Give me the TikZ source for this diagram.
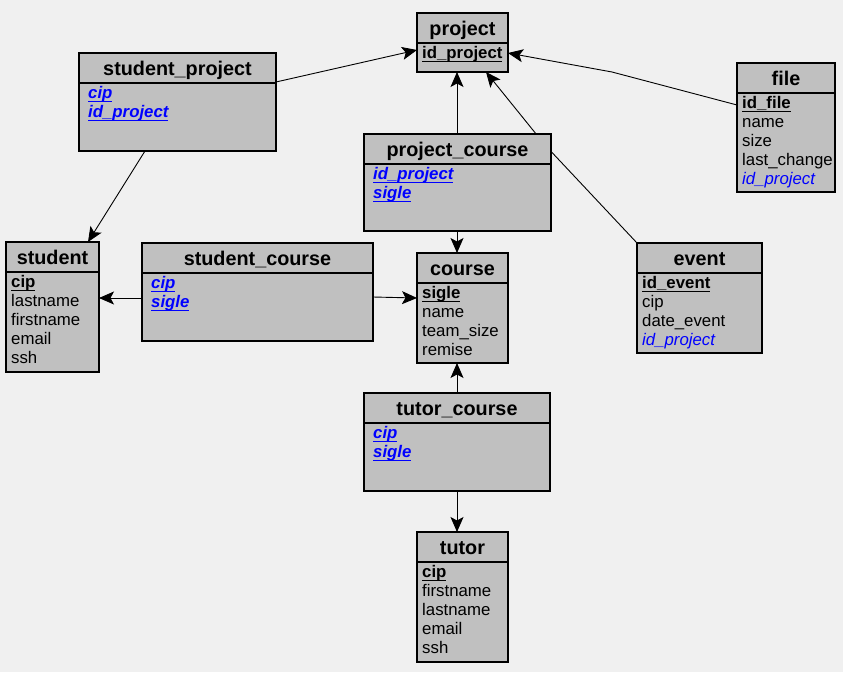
\documentclass[tikz,border=0pt]{standalone}
\usepackage{fontspec}
\setmainfont{Liberation Sans}
\usetikzlibrary{arrows.meta,calc}
\definecolor{bgcol}{HTML}{F0F0F0}
\definecolor{boxgray}{HTML}{C0C0C0}
\definecolor{fkblue}{HTML}{0000FF}
\pgfdeclarelayer{bgl}
\pgfsetlayers{bgl,main}
\newsavebox\myulbox
\newcommand\myul[1]{\sbox\myulbox{#1}\rlap{\rule[-3.3pt]{\wd\myulbox}{1.2pt}}\usebox\myulbox}
\tikzset{
  tbl/.style={draw=black, fill=boxgray, line width=1.2pt, anchor=north west, inner sep=0pt, outer sep=0pt},
  ttl/.style={anchor=base, inner sep=0pt, font=\fontsize{19.8}{22}\selectfont\bfseries},
  itm/.style={anchor=base west, inner sep=0pt, font=\fontsize{16.8}{19}\selectfont},
  pk/.style={itm, font=\fontsize{16.8}{19}\selectfont\bfseries},
  fk/.style={itm, text=fkblue, font=\fontsize{16.8}{19}\selectfont\bfseries\itshape},
  fkplain/.style={itm, text=fkblue, font=\fontsize{16.8}{19}\selectfont\itshape},
  conn/.style={line width=0.9pt, -{Stealth[length=15pt,width=13pt,inset=3.5pt]}},
  divline/.style={line width=1.2pt}
}
% name, x1, y1, x2, y2, title
\newcommand\erbox[6]{%
  \node[tbl, minimum width={(#4-#2)*1pt}, minimum height={(#5-#3)*1pt}] (#1) at (#2,#3) {};
  \draw[divline] ($(#1.north west)+(0,30)$) -- ($(#1.north east)+(-1.5,30)$);
  \node[ttl] (#1-t) at ($(#1.north)+(0,22.5)$) {#6};
}
% name, style, row index, x offset, text
\newcommand\erow[5]{\node[#2] (#1-#3) at ($(#1.north west)+({#4},{26.5+19*#3})$) {#5};}
\begin{document}
\begin{tikzpicture}[x=1pt,y=-1pt]
\begin{pgfonlayer}{bgl}
\fill[bgcol] (0,0) rectangle (843,672);
\end{pgfonlayer}
\useasboundingbox (0,0) rectangle (843,672);

% project
\erbox{project}{417}{13}{508}{72}{project}
\erow{project}{pk}{1}{5}{\myul{id\_project}}

% student_project
\erbox{sp}{79}{53}{276}{151}{student\_project}
\erow{sp}{fk}{1}{9}{\myul{cip}}
\erow{sp}{fk}{2}{9}{\myul{id\_project}}

% file
\erbox{file}{737}{63}{835}{192}{file}
\erow{file}{pk}{1}{5}{\myul{id\_file}}
\erow{file}{itm}{2}{5}{name}
\erow{file}{itm}{3}{5}{size}
\erow{file}{itm}{4}{5}{last\_change}
\erow{file}{fkplain}{5}{5}{id\_project}

% student
\erbox{student}{6}{242}{99}{372}{student}
\erow{student}{pk}{1}{5}{\myul{cip}}
\erow{student}{itm}{2}{5}{lastname}
\erow{student}{itm}{3}{5}{firstname}
\erow{student}{itm}{4}{5}{email}
\erow{student}{itm}{5}{5}{ssh}

% project_course
\erbox{pc}{364}{134}{551}{231}{project\_course}
\erow{pc}{fk}{1}{9}{\myul{id\_project}}
\erow{pc}{fk}{2}{9}{\myul{sigle}}

% course
\erbox{course}{417}{253}{508}{363}{course}
\erow{course}{pk}{1}{5}{\myul{sigle}}
\erow{course}{itm}{2}{5}{name}
\erow{course}{itm}{3}{5}{team\_size}
\erow{course}{itm}{4}{5}{remise}

% student_course
\erbox{sc}{142}{243}{373}{341}{student\_course}
\erow{sc}{fk}{1}{9}{\myul{cip}}
\erow{sc}{fk}{2}{9}{\myul{sigle}}

% event
\erbox{event}{637}{243}{762}{353}{event}
\erow{event}{pk}{1}{5}{\myul{id\_event}}
\erow{event}{itm}{2}{5}{cip}
\erow{event}{itm}{3}{5}{date\_event}
\erow{event}{fkplain}{4}{5}{id\_project}

% tutor_course
\erbox{tc}{364}{393}{550}{491}{tutor\_course}
\erow{tc}{fk}{1}{9}{\myul{cip}}
\erow{tc}{fk}{2}{9}{\myul{sigle}}

% tutor
\erbox{tutor}{417}{532}{508}{662}{tutor}
\erow{tutor}{pk}{1}{5}{\myul{cip}}
\erow{tutor}{itm}{2}{5}{firstname}
\erow{tutor}{itm}{3}{5}{lastname}
\erow{tutor}{itm}{4}{5}{email}
\erow{tutor}{itm}{5}{5}{ssh}

% connectors
\coordinate (evbend) at (545,145);
\coordinate (filebend) at (612,72);
\begin{pgfonlayer}{bgl}
\draw[conn] ($(sp.north east)+(0,29)$) -- ($(project.north west)+(0,37)$);
\draw[conn] ($(pc.north west)+(93,0)$) -- ($(project.south west)+(40,0)$);
\draw[conn] (event.north west) -- (evbend) -- ($(project.south west)+(69,0)$);
\draw[conn] ($(file.north west)+(0,42)$) -- (filebend) -- ($(project.north east)+(0,40)$);
\draw[conn] ($(sp.south west)+(66,0)$) -- ($(student.north west)+(82,0)$);
\draw[conn] ($(sc.north west)+(0,55)$) -- ($(student.north east)+(0,56)$);
\draw[conn] ($(sc.north east)+(0,54)$) -- ($(course.north west)+(0,45)$);
\draw[conn] ($(pc.south west)+(93,0)$) -- ($(course.north west)+(40,0)$);
\draw[conn] ($(tc.north west)+(93,0)$) -- ($(course.south west)+(40,0)$);
\draw[conn] ($(tc.south west)+(93,0)$) -- ($(tutor.north west)+(40,0)$);
\end{pgfonlayer}
\end{tikzpicture}
\end{document}
